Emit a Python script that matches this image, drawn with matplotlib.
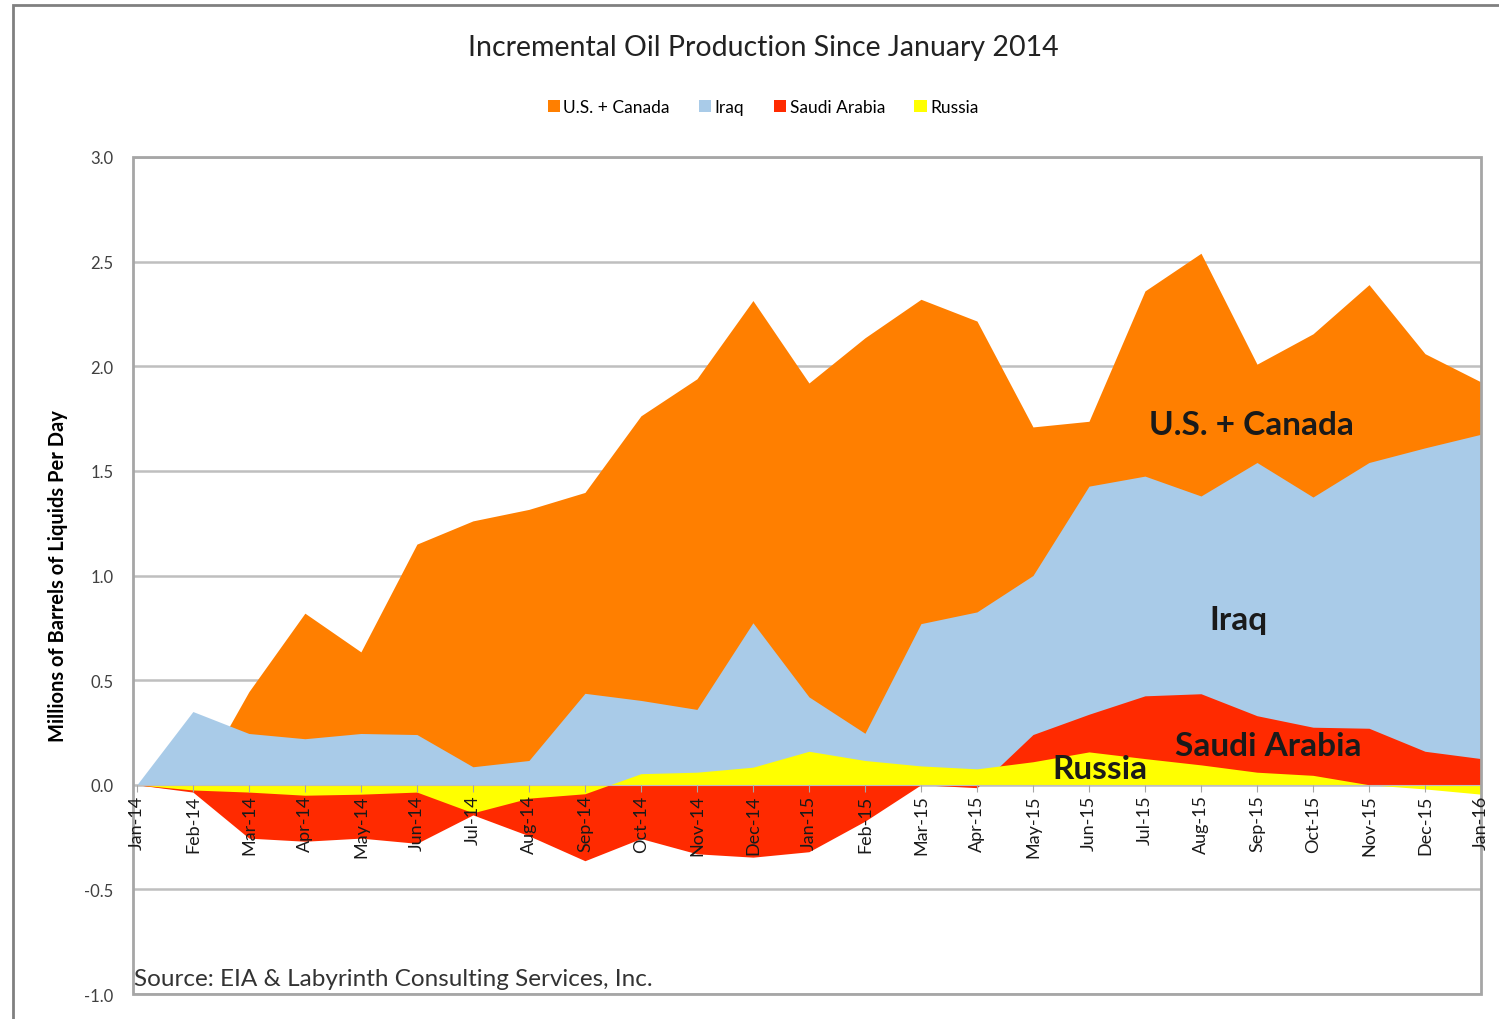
import numpy as np
import matplotlib
matplotlib.use("Agg")
import matplotlib.pyplot as plt
from matplotlib.patches import Patch, Rectangle

plt.rcParams['font.family'] = ['Lato', 'DejaVu Sans']

# monthly categories
months = ["Jan-14", "Feb-14", "Mar-14", "Apr-14", "May-14", "Jun-14", "Jul-14",
          "Aug-14", "Sep-14", "Oct-14", "Nov-14", "Dec-14", "Jan-15", "Feb-15",
          "Mar-15", "Apr-15", "May-15", "Jun-15", "Jul-15", "Aug-15", "Sep-15",
          "Oct-15", "Nov-15", "Dec-15", "Jan-16"]

# incremental production vs Jan 2014 (million b/d)
russia = [0.0, -0.025, -0.035, -0.05, -0.045, -0.035, -0.134, -0.064, -0.043,
          0.053, 0.06, 0.084, 0.16, 0.116, 0.09, 0.076, 0.11, 0.157, 0.125,
          0.095, 0.06, 0.045, 0.0, -0.02, -0.045]
saudi = [0.0, -0.01, -0.22, -0.22, -0.21, -0.245, -0.01, -0.18, -0.32,
         -0.31, -0.39, -0.43, -0.48, -0.29, -0.09, -0.09, 0.13, 0.18, 0.30,
         0.34, 0.27, 0.23, 0.27, 0.18, 0.17]
iraq = [0.0, 0.385, 0.50, 0.49, 0.50, 0.52, 0.23, 0.36, 0.80, 0.66, 0.69,
        1.12, 0.74, 0.42, 0.77, 0.84, 0.76, 1.09, 1.05, 0.945, 1.21, 1.10,
        1.27, 1.45, 1.55]
us_canada = [0.0, -0.38, 0.20, 0.60, 0.39, 0.91, 1.175, 1.20, 0.96, 1.36,
             1.58, 1.54, 1.50, 1.89, 1.55, 1.39, 0.71, 0.31, 0.885, 1.16,
             0.47, 0.78, 0.85, 0.45, 0.25]

series_names = ["U.S. + Canada", "Iraq", "Saudi Arabia", "Russia"]
colors = ["#FF7F00", "#A9CBE8", "#FF2A00", "#FFFF00"]

x = np.arange(len(months))
cum_russia = np.array(russia)
cum_saudi = cum_russia + np.array(saudi)
cum_iraq = cum_saudi + np.array(iraq)
cum_us = cum_iraq + np.array(us_canada)

fig = plt.figure(figsize=(14.99, 10.20), dpi=100)
ax = fig.add_axes([0.0887, 0.0245, 0.8993, 0.8206])

# overlapping cumulative areas, outermost first
for cum, col in zip([cum_us, cum_iraq, cum_saudi, cum_russia], colors):
    ax.fill_between(x, 0, cum, color=col, linewidth=0, zorder=2)

ax.set_xlim(-0.07, 24)
ax.set_ylim(-1.0, 3.0)
ax.set_yticks(np.arange(-1.0, 3.01, 0.5))
ax.set_yticklabels([f"{v:.1f}" for v in np.arange(-1.0, 3.01, 0.5)],
                   fontsize=12, color="#404040")
ax.grid(axis="y", color="#BFBFBF", linewidth=1.8)
ax.set_axisbelow(True)
# month labels sit on the zero line, above the filled areas
ax.xaxis.set_zorder(6)

ax.spines["bottom"].set_position(("data", 0))
ax.spines["bottom"].set_color("#BFBFBF")
for s in ["top", "right", "left"]:
    ax.spines[s].set_visible(False)
ax.add_patch(Rectangle((0, 0), 1, 1, transform=ax.transAxes, fill=False,
                       edgecolor="#A6A6A6", linewidth=2, zorder=5, clip_on=False))

ax.set_xticks(x)
ax.set_xticklabels(months, rotation=90, fontsize=13, color="#1A1A1A")
ax.tick_params(axis="x", length=5, color="#A6A6A6", pad=2)
ax.tick_params(axis="y", length=0, pad=14)

ax.set_ylabel("Millions of Barrels of Liquids Per Day", fontsize=14.5,
              fontweight="bold", labelpad=12)

# inline series labels
ax.text(19.9, 1.72, "U.S. + Canada", fontsize=24, fontweight="bold",
        ha="center", va="center", color="#1A1A1A", zorder=6)
ax.text(19.66, 0.79, "Iraq", fontsize=24, fontweight="bold",
        ha="center", va="center", color="#1A1A1A", zorder=6)
ax.text(20.2, 0.186, "Saudi Arabia", fontsize=24, fontweight="bold",
        ha="center", va="center", color="#1A1A1A", zorder=6)
ax.text(17.2, 0.076, "Russia", fontsize=24, fontweight="bold",
        ha="center", va="center", color="#1A1A1A", zorder=6)

ax.text(0.001, 0.019, "Source: EIA & Labyrinth Consulting Services, Inc.",
        transform=ax.transAxes, fontsize=17.5, color="#333333",
        ha="left", va="center", zorder=6)

fig.text(0.509, 0.953, "Incremental Oil Production Since January 2014",
         fontsize=20.5, ha="center", va="center", color="#222222")

handles = [Patch(facecolor=c, edgecolor="none") for c in colors]
fig.legend(handles, series_names, loc="center", bbox_to_anchor=(0.509, 0.894),
           ncol=4, frameon=False, fontsize=12.5, handlelength=0.7,
           handleheight=0.7, handletextpad=0.2, columnspacing=1.7)

# outer chart border
fig.add_artist(Rectangle((13 / 1499, -0.01), 1.2, 1 - 6 / 1020 + 0.01,
                         transform=fig.transFigure, fill=False,
                         edgecolor="#808080", linewidth=2))

fig.savefig("out.png", dpi=100)
